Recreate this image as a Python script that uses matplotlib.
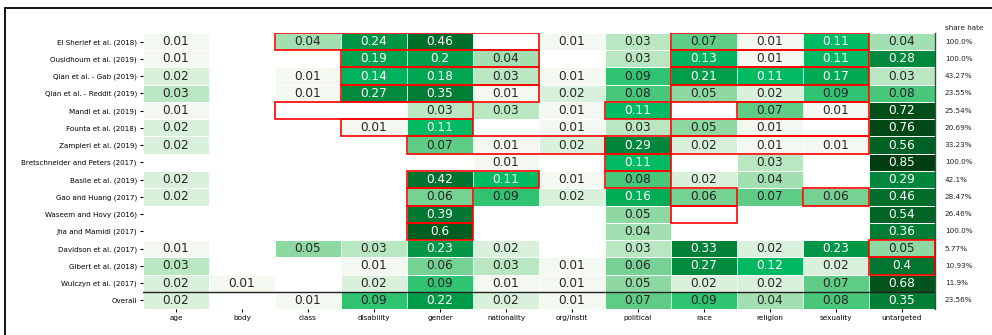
import numpy as np
import matplotlib
matplotlib.use("Agg")
import matplotlib.pyplot as plt
from matplotlib.colors import LinearSegmentedColormap, Normalize
from matplotlib.patches import Rectangle

targets = ["age", "body", "class", "disability", "gender", "nationality",
           "org/instit", "political", "race", "religion", "sexuality", "untargeted"]

datasets = ["El Sherief et al. (2018)", "Ousidhoum et al. (2019)", "Qian et al. - Gab (2019)",
            "Qian et al. - Reddit (2019)", "Mandl et al. (2019)", "Founta et al. (2018)",
            "Zampieri et al. (2019)", "Bretschneider and Peters (2017)", "Basile et al. (2019)",
            "Gao and Huang (2017)", "Waseem and Hovy (2016)", "Jha and Mamidi (2017)",
            "Davidson et al. (2017)", "Gibert et al. (2018)", "Wulczyn et al. (2017)", "Overall"]

N = None
values = [
    [0.01, N, 0.04, 0.24, 0.46, N, 0.01, 0.03, 0.07, 0.01, 0.11, 0.04],
    [0.01, N, N, 0.19, 0.2, 0.04, N, 0.03, 0.13, 0.01, 0.11, 0.28],
    [0.02, N, 0.01, 0.14, 0.18, 0.03, 0.01, 0.09, 0.21, 0.11, 0.17, 0.03],
    [0.03, N, 0.01, 0.27, 0.35, 0.01, 0.02, 0.08, 0.05, 0.02, 0.09, 0.08],
    [0.01, N, N, N, 0.03, 0.03, 0.01, 0.11, N, 0.07, 0.01, 0.72],
    [0.02, N, N, 0.01, 0.11, N, 0.01, 0.03, 0.05, 0.01, N, 0.76],
    [0.02, N, N, N, 0.07, 0.01, 0.02, 0.29, 0.02, 0.01, 0.01, 0.56],
    [N, N, N, N, N, 0.01, N, 0.11, N, 0.03, N, 0.85],
    [0.02, N, N, N, 0.42, 0.11, 0.01, 0.08, 0.02, 0.04, N, 0.29],
    [0.02, N, N, N, 0.06, 0.09, 0.02, 0.16, 0.06, 0.07, 0.06, 0.46],
    [N, N, N, N, 0.39, N, N, 0.05, N, N, N, 0.54],
    [N, N, N, N, 0.6, N, N, 0.04, N, N, N, 0.36],
    [0.01, N, 0.05, 0.03, 0.23, 0.02, N, 0.03, 0.33, 0.02, 0.23, 0.05],
    [0.03, N, N, 0.01, 0.06, 0.03, 0.01, 0.06, 0.27, 0.12, 0.02, 0.4],
    [0.02, 0.01, N, 0.02, 0.09, 0.01, 0.01, 0.05, 0.02, 0.02, 0.07, 0.68],
    [0.02, N, 0.01, 0.09, 0.22, 0.02, 0.01, 0.07, 0.09, 0.04, 0.08, 0.35],
]

share_hate = ["100.0%", "100.0%", "43.27%", "23.55%", "25.54%", "20.69%", "33.23%",
              "100.0%", "42.1%", "28.47%", "26.46%", "100.0%", "5.77%", "10.93%",
              "11.9%", "23.56%"]

# highlighted target groups: (row, first column, last column)
highlights = [
    (0, 2, 5), (0, 8, 10),
    (1, 3, 5), (1, 8, 10),
    (2, 3, 5), (2, 8, 10),
    (3, 3, 5), (3, 8, 10),
    (4, 2, 4), (4, 7, 7), (4, 9, 10),
    (5, 3, 4), (5, 8, 10),
    (6, 4, 6), (6, 7, 7), (6, 8, 10),
    (7, 7, 7),
    (8, 4, 5), (8, 7, 7),
    (9, 4, 4), (9, 8, 8), (9, 10, 10),
    (10, 4, 4), (10, 8, 8),
    (11, 4, 4),
    (12, 11, 11),
    (13, 11, 11),
]

data = np.array([[np.nan if v is None else v for v in row] for row in values])
masked = np.ma.masked_invalid(data)

vmax = 0.85
cmap = LinearSegmentedColormap.from_list("hate_greens", [
    (0.0, "#ffffff"),
    (0.012, "#f3f9f1"),
    (0.024, "#d8f0da"),
    (0.036, "#b7e6c0"),
    (0.06, "#8bd89f"),
    (0.09, "#50c87d"),
    (0.13, "#00bb62"),
    (0.24, "#00a04b"),
    (0.33, "#00883c"),
    (0.55, "#006c29"),
    (0.75, "#005a1f"),
    (1.0, "#003d10"),
])

fig = plt.figure(figsize=(9.92, 3.35), dpi=100)
ax = fig.add_axes([0.1442, 0.0776, 0.7983, 0.8239])

ax.pcolormesh(masked, cmap=cmap, norm=Normalize(0, vmax),
              edgecolors="white", linewidth=0.6)
ax.set_xlim(0, len(targets))
ax.set_ylim(len(datasets), 0)

for i in range(len(datasets)):
    for j in range(len(targets)):
        v = data[i, j]
        if np.isnan(v):
            continue
        ax.text(j + 0.5, i + 0.5, f"{v:g}", ha="center", va="center",
                fontsize=8.7, color="white" if v >= 0.1 else "#262626")

for r, c0, c1 in highlights:
    ax.add_patch(Rectangle((c0, r), c1 - c0 + 1, 1, fill=False,
                           edgecolor="red", linewidth=1.2, zorder=3))

ax.axhline(15, color="#222222", linewidth=1.0, zorder=4)
ax.axvline(12, color="#444444", linewidth=1.0, zorder=4, clip_on=False)

for i, s in enumerate(share_hate):
    ax.text(12.15, i + 0.5, s, ha="left", va="center", fontsize=5.2,
            color="#222222", clip_on=False)
ax.text(12.15, -0.3, "share hate", ha="left", va="center", fontsize=5.2,
        color="#222222", clip_on=False)

ax.set_xticks(np.arange(len(targets)) + 0.5)
ax.set_xticklabels(targets, fontsize=5.2)
ax.set_yticks(np.arange(len(datasets)) + 0.5)
ax.set_yticklabels(datasets, fontsize=5.1)
ax.tick_params(length=2.5, width=0.8, pad=2)
for sp in ax.spines.values():
    sp.set_visible(False)

# outer frame: only the top and left edges fall inside the canvas
fig.patches.append(Rectangle((5 / 992, -20 / 335), 1.1, 347 / 335,
                             transform=fig.transFigure, fill=False,
                             edgecolor="black", linewidth=1.3))

fig.savefig("out.png", dpi=100)
